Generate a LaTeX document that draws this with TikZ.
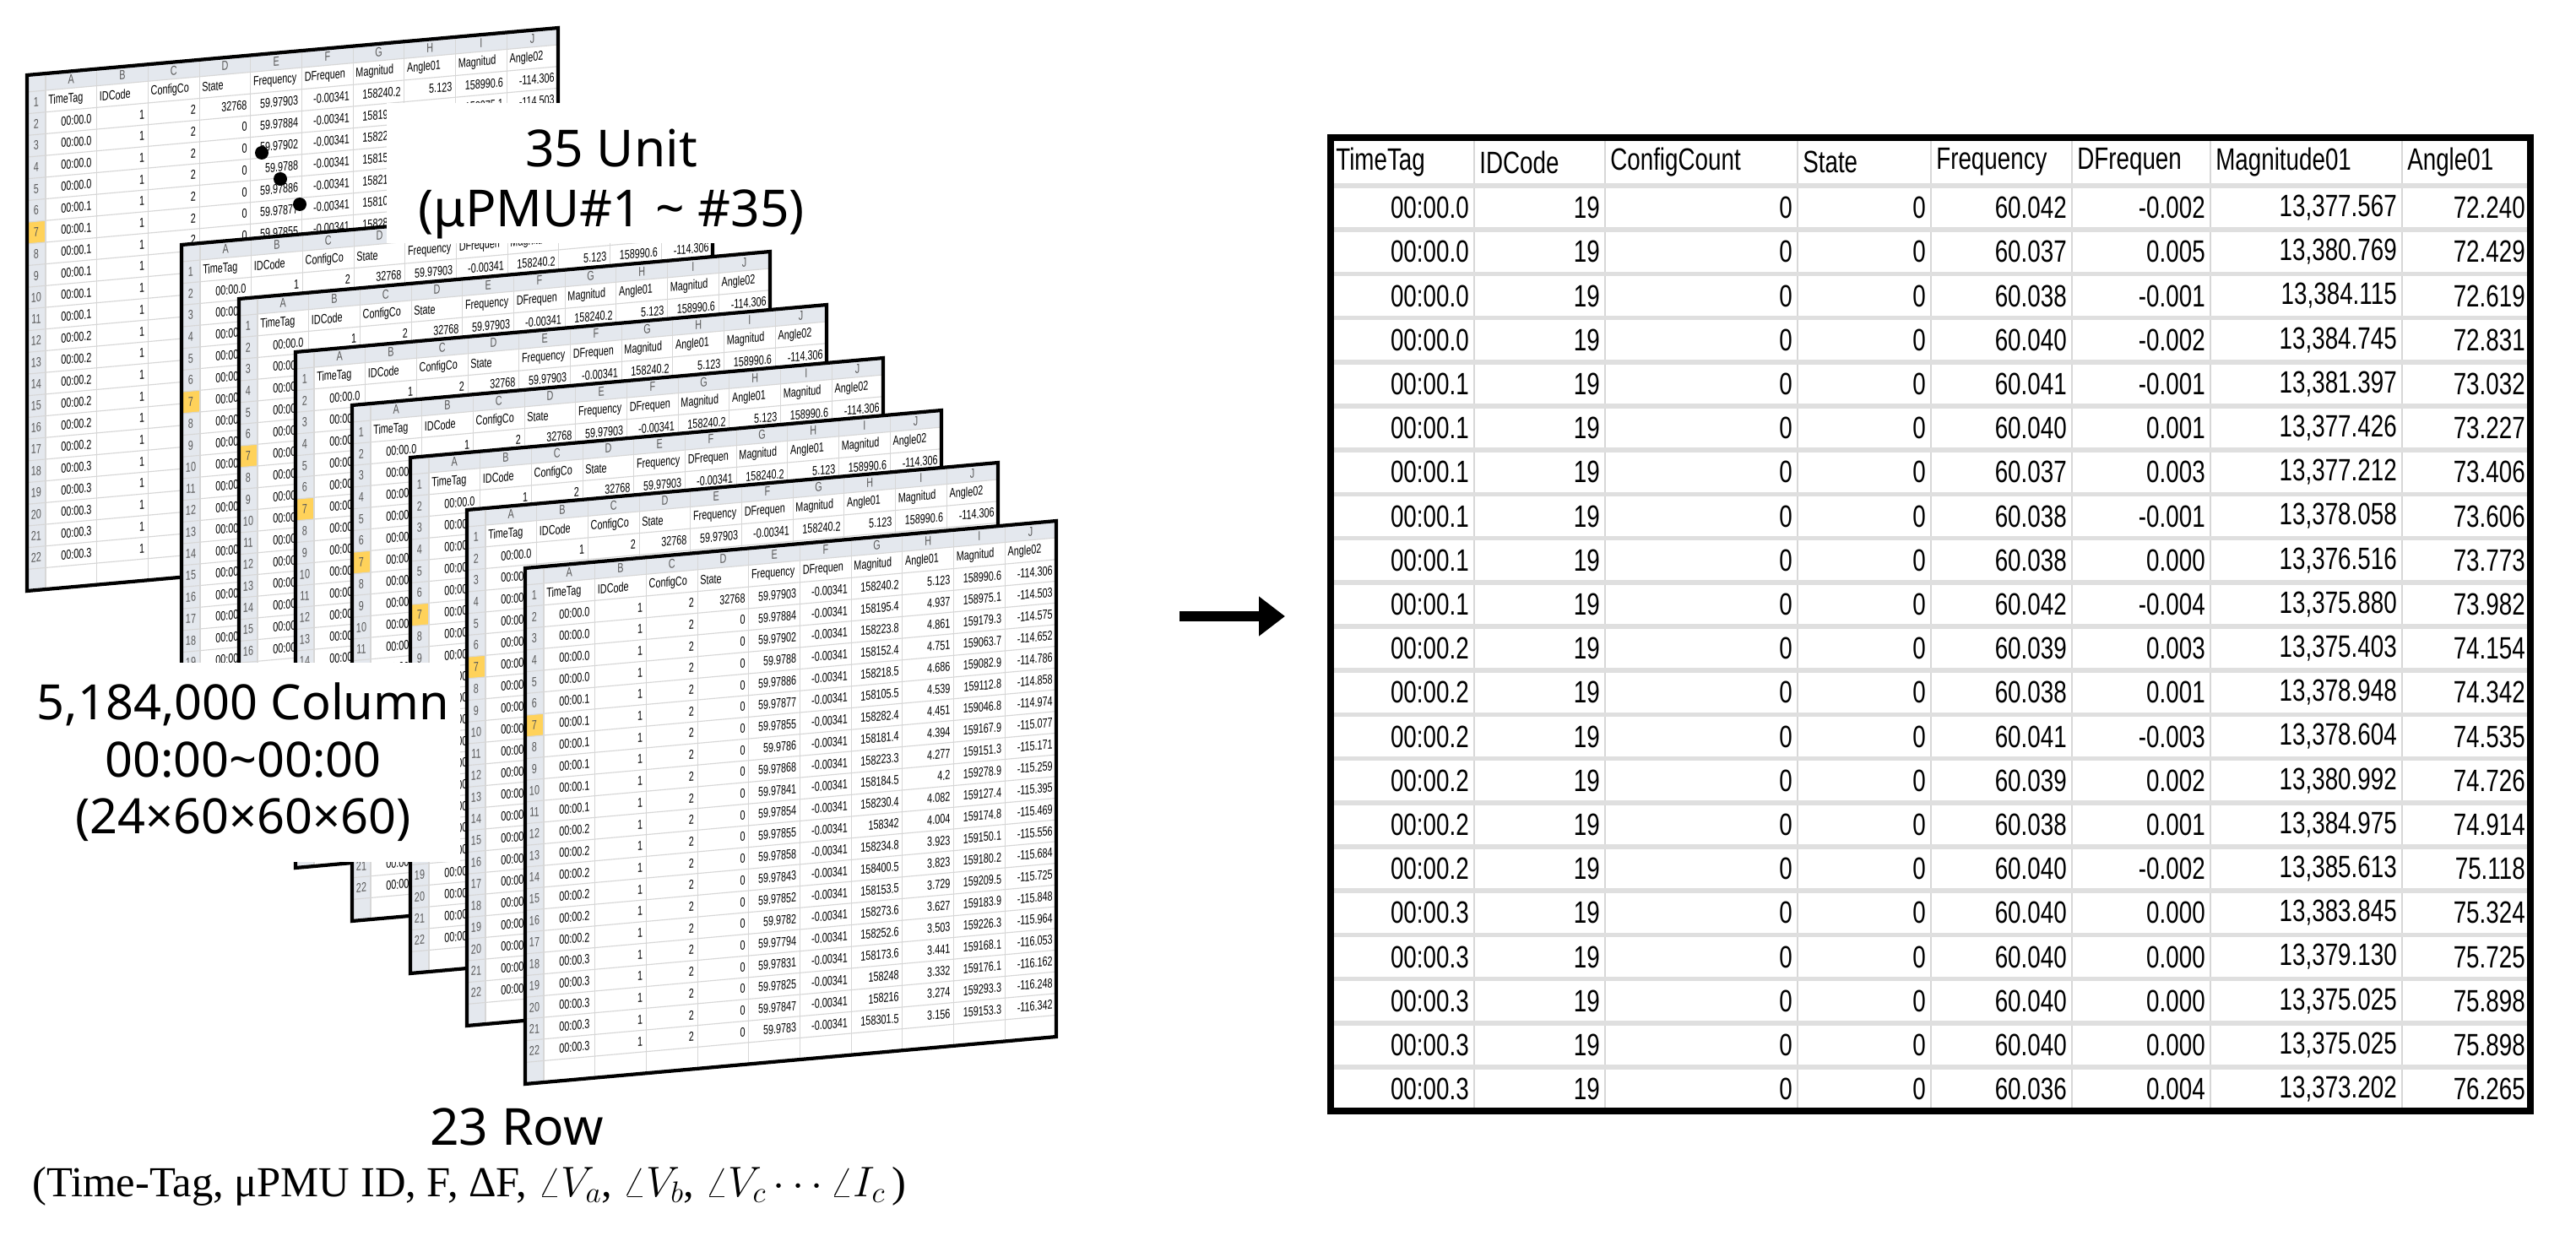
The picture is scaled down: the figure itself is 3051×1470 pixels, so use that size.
\RequirePackage{fix-cm}
\documentclass[tikz,border=0pt]{standalone}
\usepackage{fontspec}
\usetikzlibrary{arrows.meta}
\setmainfont{Liberation Serif}
\newfontfamily\labf{Noto Sans}
\newfontfamily\sheetf{Liberation Sans}[FakeStretch=0.7]
\newfontfamily\tabf{Liberation Sans}[FakeStretch=0.76]
\definecolor{hdr}{RGB}{228,232,238}
\definecolor{grid}{RGB}{215,215,215}
\definecolor{selc}{RGB}{255,210,90}
\tikzset{
  st/.style={font=\sheetf\fontsize{11}{11}\selectfont, inner sep=0pt, transform shape},
  tt/.style={font=\tabf\fontsize{26}{26}\selectfont, inner sep=0pt},
  lab/.style={font=\labf\fontsize{43}{50}\selectfont, inner sep=4pt, align=center},
}
\newcommand\mysheet[2]{%
\begin{scope}[shift={(#1,#2)}, yslant=0.089]
  \fill[white] (0,0) rectangle (629,611);
  \fill[hdr] (0,0) rectangle (629,20);
  \fill[hdr] (0,20) rectangle (22,611);
  \fill[selc] (0,{20+25.7*6}) rectangle (22,{20+25.7*7});
  \foreach \k in {0,...,10} \draw[grid, line width=0.8] ({22+60.7*\k},0) -- ({22+60.7*\k},611);
  \foreach \k in {0,...,23} \draw[grid, line width=0.8] (0,{20+25.7*\k}) -- (629,{20+25.7*\k});
  \foreach \L [count=\k] in {A,B,C,D,E,F,G,H,I,J}
    \node[st, text=gray!70!black] at ({22+60.7*(\k-0.5)},10) {\L};
  \foreach \r in {1,...,22}
    \node[st, text=gray!70!black] at (11,{20+25.7*(\r-0.5)}) {\r};
  \foreach \h [count=\k] in {TimeTag,IDCode,ConfigCo,State,Frequency,DFrequen,Magnitud,Angle01,Magnitud,Angle02}
    \node[st, anchor=west] at ({22+60.7*(\k-1)+3},{20+12.85}) {\h};
  \foreach \t/\s/\f/\m/\a/\mm/\aa [count=\i from 2] in {
   00:00.0/32768/59.97903/158240.2/5.123/158990.6/-114.306,
   00:00.0/0/59.97884/158195.4/4.937/158975.1/-114.503,
   00:00.0/0/59.97902/158223.8/4.861/159179.3/-114.575,
   00:00.0/0/59.9788/158152.4/4.751/159063.7/-114.652,
   00:00.1/0/59.97886/158218.5/4.686/159082.9/-114.786,
   00:00.1/0/59.97877/158105.5/4.539/159112.8/-114.858,
   00:00.1/0/59.97855/158282.4/4.451/159046.8/-114.974,
   00:00.1/0/59.9786/158181.4/4.394/159167.9/-115.077,
   00:00.1/0/59.97868/158223.3/4.277/159151.3/-115.171,
   00:00.1/0/59.97841/158184.5/4.2/159278.9/-115.259,
   00:00.2/0/59.97854/158230.4/4.082/159127.4/-115.395,
   00:00.2/0/59.97855/158342/4.004/159174.8/-115.469,
   00:00.2/0/59.97858/158234.8/3.923/159150.1/-115.556,
   00:00.2/0/59.97843/158400.5/3.823/159180.2/-115.684,
   00:00.2/0/59.97852/158153.5/3.729/159209.5/-115.725,
   00:00.2/0/59.9782/158273.6/3.627/159183.9/-115.848,
   00:00.3/0/59.97794/158252.6/3.503/159226.3/-115.964,
   00:00.3/0/59.97831/158173.6/3.441/159168.1/-116.053,
   00:00.3/0/59.97825/158248/3.332/159176.1/-116.162,
   00:00.3/0/59.97847/158216/3.274/159293.3/-116.248,
   00:00.3/0/59.9783/158301.5/3.156/159153.3/-116.342}{
    \pgfmathsetmacro\vv{20+25.7*(\i-0.5)}
    \node[st, anchor=west] at (40,\vv) {\t};
    \node[st, anchor=east] at ({22+60.7*2-4},\vv) {1};
    \node[st, anchor=east] at ({22+60.7*3-4},\vv) {2};
    \node[st, anchor=east] at ({22+60.7*4-4},\vv) {\s};
    \node[st, anchor=east] at ({22+60.7*5-4},\vv) {\f};
    \node[st, anchor=east] at ({22+60.7*6-4},\vv) {-0.00341};
    \node[st, anchor=east] at ({22+60.7*7-4},\vv) {\m};
    \node[st, anchor=east] at ({22+60.7*8-4},\vv) {\a};
    \node[st, anchor=east] at ({22+60.7*9-4},\vv) {\mm};
    \node[st, anchor=east] at ({22+60.7*10-4},\vv) {\aa};
  }
  \draw[black, line width=3] (0,0) rectangle (629,611);
\end{scope}}
\begin{document}
\begin{tikzpicture}[x=0.025cm,y=-0.025cm]
\useasboundingbox (0,0) rectangle (3051,1470);
% stack of sheets
\mysheet{32}{89}
\mysheet{215}{290}
\fill[white] (458,122) rectangle (960,288);
\node[lab] (unit) at (724,218) {35 Unit\\(μPMU\#1 \textasciitilde{} \#35)};
\fill (310,181) circle (8) (332,212) circle (8) (355,242) circle (8);
\mysheet{283}{354}
\mysheet{350}{417}
\mysheet{417}{480}
\mysheet{486}{542}
\mysheet{553}{604}
\fill[white] (45,785) rectangle (545,1021);
\node[lab, font=\labf\fontsize{41}{48}\selectfont] (col) at (288,903) {5,184,000 Column\\00:00\textasciitilde00:00\\(24×60×60×60)};
\mysheet{622}{673}
\node[font=\labf\fontsize{43}{50}\selectfont] (row) at (612,1335) {23 Row};
\node[font=\fontsize{36}{42}\selectfont] (vars) at (556,1405) {(Time-Tag, μPMU ID, F, ΔF, $\angle V_a$, $\angle V_b$, $\angle V_c\cdots\angle I_c$\,)};
% arrow
\coordinate (a1) at (1397,730);
\coordinate (a2) at (1522,730);
\draw[line width=8.5, -{Triangle[length=22,width=32]}] (a1) -- (a2);
% table
\def\cx{{1576,1746,1901,2129,2287,2454,2618,2845,2997}}
\foreach \k in {1,...,7} {\pgfmathsetmacro\xx{\cx[\k]} \draw[grid, line width=2] (\xx,163) -- (\xx,1316);}
\foreach \r in {0,...,20} \draw[grid!80!white, line width=4] (1576,{220+52.2*\r}) -- (2997,{220+52.2*\r});
\foreach \h [count=\k from 0] in {TimeTag,IDCode,ConfigCount,State,Frequency,DFrequen,Magnitude01,Angle01} {
  \pgfmathsetmacro\xx{\cx[\k]+6}
  \node[tt, anchor=west] at (\xx,192) {\h};}
\foreach \t/\f/\d/\m/\a [count=\i] in {
 00:00.0/60.042/-0.002/{13,377.567}/72.240,
 00:00.0/60.037/0.005/{13,380.769}/72.429,
 00:00.0/60.038/-0.001/{13,384.115}/72.619,
 00:00.0/60.040/-0.002/{13,384.745}/72.831,
 00:00.1/60.041/-0.001/{13,381.397}/73.032,
 00:00.1/60.040/0.001/{13,377.426}/73.227,
 00:00.1/60.037/0.003/{13,377.212}/73.406,
 00:00.1/60.038/-0.001/{13,378.058}/73.606,
 00:00.1/60.038/0.000/{13,376.516}/73.773,
 00:00.1/60.042/-0.004/{13,375.880}/73.982,
 00:00.2/60.039/0.003/{13,375.403}/74.154,
 00:00.2/60.038/0.001/{13,378.948}/74.342,
 00:00.2/60.041/-0.003/{13,378.604}/74.535,
 00:00.2/60.039/0.002/{13,380.992}/74.726,
 00:00.2/60.038/0.001/{13,384.975}/74.914,
 00:00.2/60.040/-0.002/{13,385.613}/75.118,
 00:00.3/60.040/0.000/{13,383.845}/75.324,
 00:00.3/60.040/0.000/{13,379.130}/75.725,
 00:00.3/60.040/0.000/{13,375.025}/75.898,
 00:00.3/60.040/0.000/{13,375.025}/75.898,
 00:00.3/60.036/0.004/{13,373.202}/76.265}{
  \pgfmathsetmacro\vv{220+52.2*(\i-0.5)}
  \node[tt, anchor=east] at (1740,\vv) {\t};
  \node[tt, anchor=east] at (1895,\vv) {19};
  \node[tt, anchor=east] at (2123,\vv) {0};
  \node[tt, anchor=east] at (2281,\vv) {0};
  \node[tt, anchor=east] at (2448,\vv) {\f};
  \node[tt, anchor=east] at (2612,\vv) {\d};
  \node[tt, anchor=east] at (2839,\vv) {\m};
  \node[tt, anchor=east] at (2991,\vv) {\a};
}
\draw[line width=6] (1576,163) rectangle (2997,1316);
\end{tikzpicture}
\end{document}
